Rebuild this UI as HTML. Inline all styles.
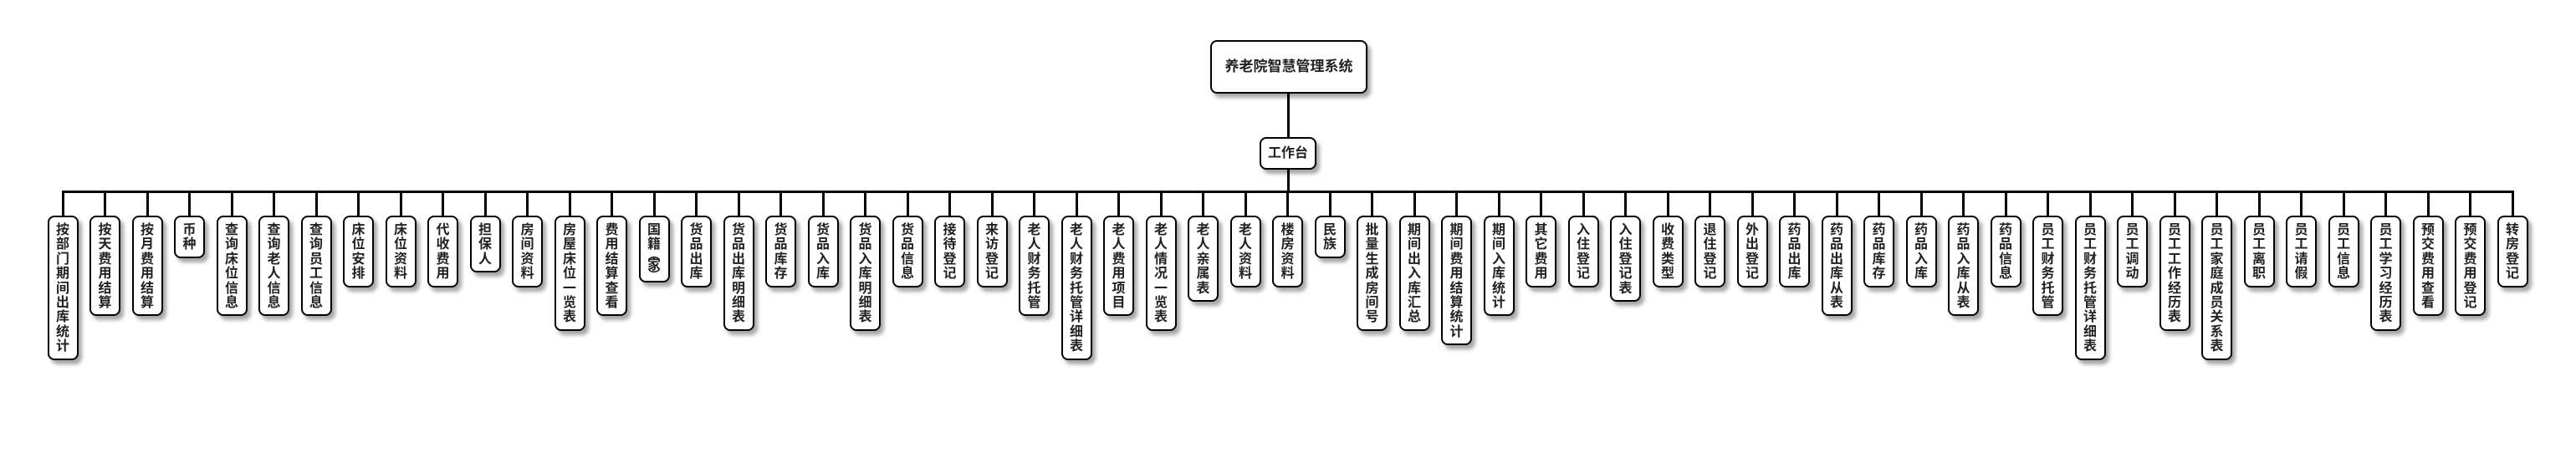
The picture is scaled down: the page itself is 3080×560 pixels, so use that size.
<!DOCTYPE html>
<html><head><meta charset="utf-8">
<style>
html,body{margin:0;padding:0;background:#fff;}
body{width:3080px;height:560px;position:relative;overflow:hidden;font-family:"Liberation Sans","Noto Sans CJK SC",sans-serif;}
.box{position:absolute;box-sizing:border-box;border:2px solid #000;border-radius:8px;background:#fff;box-shadow:4px 5px 5px rgba(0,0,0,0.35);color:#222;font-weight:bold;text-align:center;}
.leaf{width:37px;top:258px;font-size:16px;line-height:17.4px;padding-top:7px;}
.line{position:absolute;background:#000;}
.p{display:block;line-height:7px;height:7px;font-size:14px;overflow:visible;}
</style></head><body>
<div class="box" style="left:1447px;top:48px;width:188px;height:64px;font-size:17px;line-height:60px;">养老院智慧管理系统</div>
<div class="line" style="left:1539px;top:112px;width:3px;height:52px;"></div>
<div class="box" style="left:1506px;top:164px;width:68px;height:39px;font-size:16px;line-height:35px;">工作台</div>
<div class="line" style="left:1539px;top:203px;width:3px;height:27px;"></div>
<div class="line" style="left:74px;top:228px;width:2932px;height:3px;"></div>
<div id="leaves"></div>
<script>
var L=["按部门期间出库统计","按天费用结算","按月费用结算","币种","查询床位信息","查询老人信息","查询员工信息","床位安排","床位资料","代收费用","担保人","房间资料","房屋床位一览表","费用结算查看","国籍(家)","货品出库","货品出库明细表","货品库存","货品入库","货品入库明细表","货品信息","接待登记","来访登记","老人财务托管","老人财务托管详细表","老人费用项目","老人情况一览表","老人亲属表","老人资料","楼房资料","民族","批量生成房间号","期间出入库汇总","期间费用结算统计","期间入库统计","其它费用","入住登记","入住登记表","收费类型","退住登记","外出登记","药品出库","药品出库从表","药品库存","药品入库","药品入库从表","药品信息","员工财务托管","员工财务托管详细表","员工调动","员工工作经历表","员工家庭成员关系表","员工离职","员工请假","员工信息","员工学习经历表","预交费用查看","预交费用登记","转房登记"];
var h="";
for(var i=0;i<L.length;i++){
 var cx=75+i*(3004-75)/58;
 var inner,ht;
 if(L[i]=="国籍(家)"){
  inner='国<br>籍<span class="p">︵</span>家<span class="p">︶</span>';
  ht=80;
 } else {
  var chars=Array.from(L[i]);
  inner=chars.join("<br>");
  ht=Math.round(16+17.4*chars.length);
 }
 h+='<div class="line" style="left:'+(cx-1.5)+'px;top:229px;width:3px;height:30px;"></div>';
 h+='<div class="box leaf" style="left:'+(cx-18.5)+'px;height:'+ht+'px;">'+inner+'</div>';
}
document.getElementById("leaves").innerHTML=h;
</script>
</body></html>
